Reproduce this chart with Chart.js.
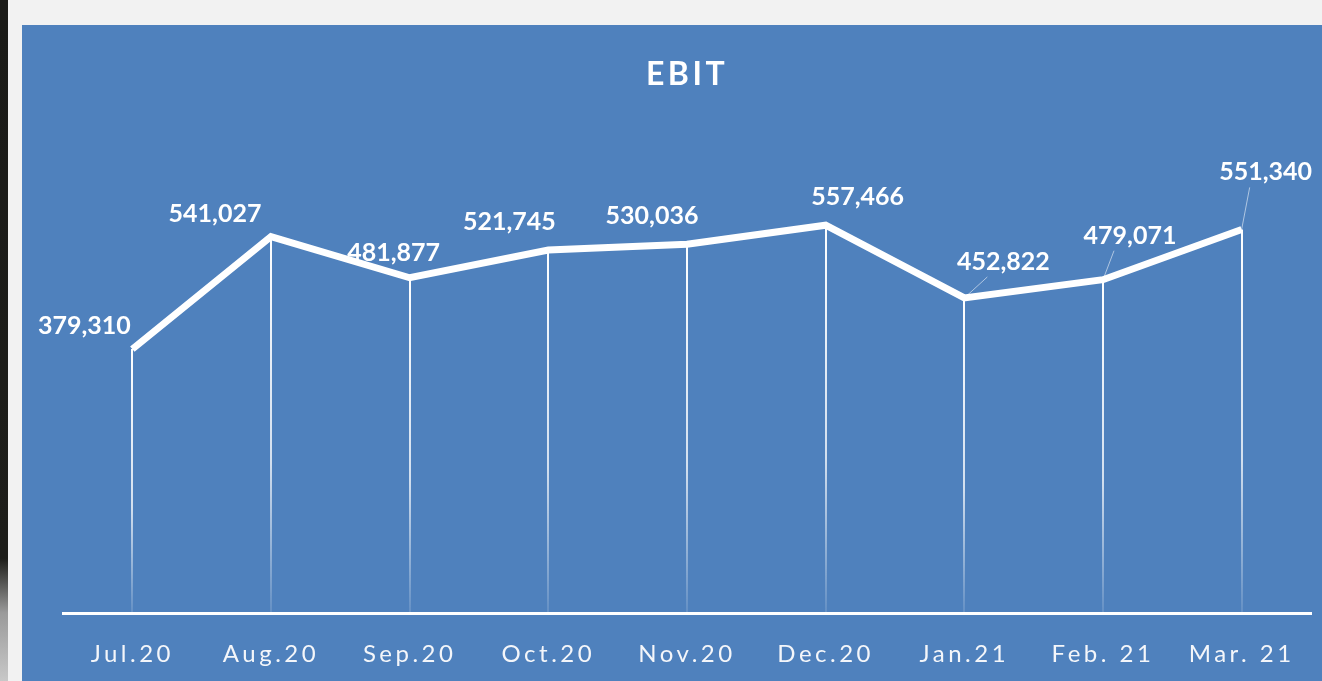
<!DOCTYPE html>
<html>
<head>
<meta charset="utf-8">
<script src="https://cdn.jsdelivr.net/npm/chart.js@4.4.1/dist/chart.umd.min.js"></script>
<style>
  html, body { margin: 0; padding: 0; }
  body { width: 1322px; height: 681px; background: #f2f2f2; position: relative; overflow: hidden; }
  #strip { position: absolute; left: 0; top: 0; width: 8px; height: 681px;
           background: linear-gradient(#1b1b18 0%, #1e1e1a 82%, #9a9a9a 90%, #c8c8c8 100%); }
  #panel { position: absolute; left: 22px; top: 25px; width: 1300px; height: 656px; background: #4f81bd; }
</style>
</head>
<body>
<div id="strip"></div>
<div id="panel"><canvas id="chartEbit" width="1300" height="656"></canvas></div>
<script>
const meses = ["Jul.20", "Aug.20", "Sep.20", "Oct.20", "Nov.20", "Dec.20", "Jan.21", "Feb. 21", "Mar. 21"];
const ebit = [379310, 541027, 481877, 521745, 530036, 557466, 452822, 479071, 551340];
const etiquetas = ["379,310", "541,027", "481,877", "521,745", "530,036", "557,466", "452,822", "479,071", "551,340"];

// desplazamiento de cada etiqueta respecto a su punto (px) y si lleva guia
const offsetsEtiqueta = [[-48, -23], [-56, -23], [-16, -25], [-39, -28], [-35, -28], [32, -28], [39, -36], [27, -44], [24, -57]];
const conGuia = [false, false, false, false, false, false, true, true, true];

const FUENTE = "Lato, 'Open Sans', sans-serif";

// lineas verticales desde cada punto hasta el eje
const lineasVerticales = {
    id: "lineasVerticales",
    beforeDatasetsDraw(chart) {
        const ctx = chart.ctx;
        const meta = chart.getDatasetMeta(0);
        const base = chart.chartArea.bottom;
        ctx.save();
        meta.data.forEach(p => {
            const g = ctx.createLinearGradient(0, p.y, 0, base);
            g.addColorStop(0, "rgba(255,255,255,1)");
            g.addColorStop(0.6, "rgba(255,255,255,0.75)");
            g.addColorStop(1, "rgba(255,255,255,0.12)");
            ctx.strokeStyle = g;
            ctx.lineWidth = 2;
            ctx.beginPath();
            ctx.moveTo(Math.round(p.x), p.y);
            ctx.lineTo(Math.round(p.x), base);
            ctx.stroke();
        });
        ctx.restore();
    }
};

const etiquetasDatos = {
    id: "etiquetasDatos",
    afterDatasetsDraw(chart) {
        const ctx = chart.ctx;
        const meta = chart.getDatasetMeta(0);
        ctx.save();
        ctx.letterSpacing = "0px";
        meta.data.forEach((p, i) => {
            const [dx, dy] = offsetsEtiqueta[i];
            const tx = p.x + dx, ty = p.y + dy;
            if (conGuia[i]) {
                ctx.strokeStyle = "rgba(255,255,255,0.55)";
                ctx.lineWidth = 1;
                ctx.beginPath();
                ctx.moveTo(p.x, p.y);
                ctx.lineTo(tx - 16, ty + 15);
                ctx.stroke();
            }
            ctx.fillStyle = "#ffffff";
            ctx.font = "bold 25px " + FUENTE;
            ctx.textAlign = "center";
            ctx.textBaseline = "middle";
            ctx.fillText(etiquetas[i], tx, ty);
        });
        ctx.restore();
    }
};

const espaciado = {
    id: "espaciado",
    beforeDraw(chart) {
        chart.ctx.letterSpacing = "3.5px";
    }
};

new Chart(document.getElementById("chartEbit"), {
    type: "line",
    data: {
        labels: meses,
        datasets: [{
            data: ebit,
            borderColor: "#ffffff",
            borderWidth: 7,
            pointRadius: 0,
            pointHoverRadius: 0,
            tension: 0,
            fill: false,
            clip: false
        }]
    },
    options: {
        responsive: false,
        animation: false,
        devicePixelRatio: 1,
        layout: { padding: { left: 41, right: 11, top: 0, bottom: 0 } },
        plugins: {
            legend: { display: false },
            tooltip: { enabled: false },
            title: {
                display: true,
                text: "EBIT",
                color: "#ffffff",
                font: { family: FUENTE, size: 32, weight: "bold", lineHeight: 1.2 },
                padding: { top: 30, bottom: 32.6 }
            }
        },
        scales: {
            x: {
                offset: true,
                grid: { display: false, drawTicks: false },
                border: { display: true, color: "#ffffff", width: 3 },
                ticks: {
                    color: "#f4f6fa",
                    font: { family: FUENTE, size: 24, lineHeight: 1.2 },
                    padding: 27,
                    maxRotation: 0,
                    autoSkip: false
                },
                afterFit(scale) { scale.height = 68; }
            },
            y: {
                display: false,
                min: 0,
                max: 700000
            }
        }
    },
    plugins: [espaciado, lineasVerticales, etiquetasDatos]
});
</script>
</body>
</html>
